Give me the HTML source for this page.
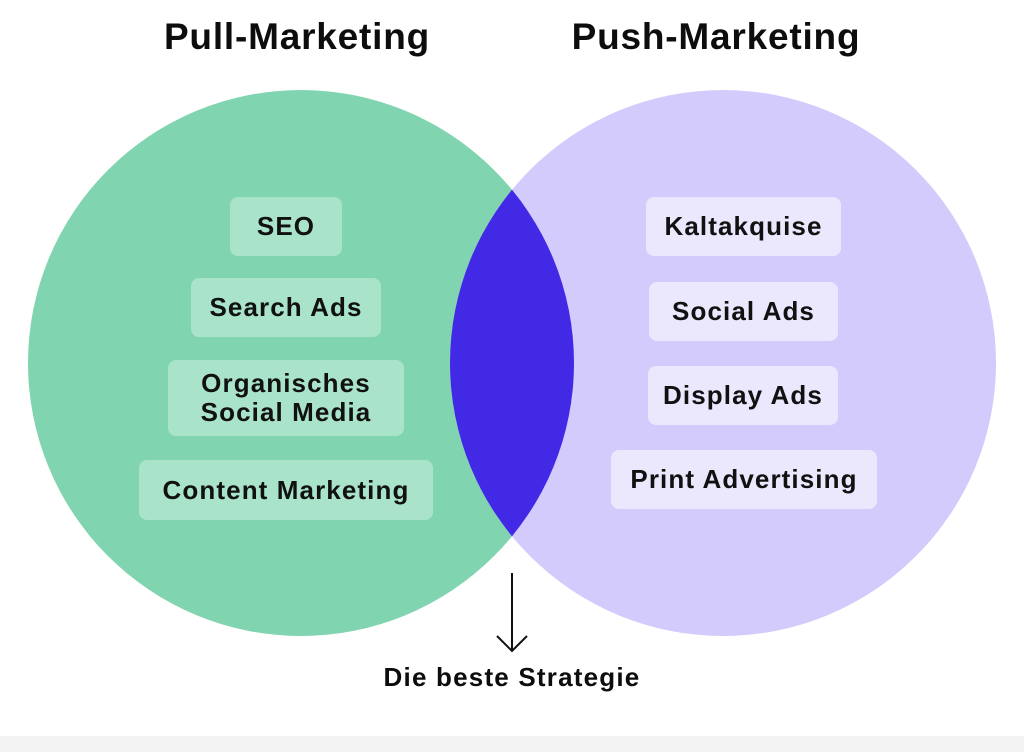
<!DOCTYPE html>
<html><head><meta charset="utf-8"><style>
body{margin:0;width:1024px;height:752px;background:#fff;overflow:hidden;position:relative;font-family:"Liberation Sans",sans-serif;}
.t{position:absolute;font-weight:bold;color:#0d0d0d;white-space:nowrap;transform:translateX(-50%);}
.b{position:absolute;border-radius:8px;display:flex;align-items:center;justify-content:center;text-align:center;font-weight:bold;font-size:26px;letter-spacing:1.1px;line-height:29px;color:#111;white-space:nowrap;}
.g{background:#a9e3ca}.p{background:#ebe7fc}
</style></head><body>
<svg width="1024" height="752" style="position:absolute;left:0;top:0">
<defs><clipPath id="c"><circle cx="301" cy="363" r="273"/></clipPath></defs>
<rect x="0" y="736" width="1024" height="16" fill="#f3f3f3"/>
<circle cx="301" cy="363" r="273" fill="#80d4b0"/>
<circle cx="723" cy="363" r="273" fill="#d3cbfc"/>
<circle cx="723" cy="363" r="273" fill="#4229e6" clip-path="url(#c)"/>
<line x1="512" y1="573" x2="512" y2="650" stroke="#111" stroke-width="2"/>
<polyline points="497,636 512,651 527,636" fill="none" stroke="#111" stroke-width="2"/>
</svg>
<div class="t" style="left:297px;top:16px;font-size:37px;letter-spacing:0.8px">Pull-Marketing</div>
<div class="t" style="left:716px;top:16px;font-size:37px;letter-spacing:0.8px">Push-Marketing</div>
<div class="t" style="left:512px;top:662px;font-size:26px;letter-spacing:1.2px">Die beste Strategie</div>
<div class="b g" style="left:230px;top:197px;width:112px;height:59px">SEO</div>
<div class="b g" style="left:191px;top:278px;width:190px;height:59px">Search Ads</div>
<div class="b g" style="left:168px;top:360px;width:236px;height:76px">Organisches<br>Social Media</div>
<div class="b g" style="left:139px;top:460px;width:294px;height:60px">Content Marketing</div>
<div class="b p" style="left:646px;top:197px;width:195px;height:59px">Kaltakquise</div>
<div class="b p" style="left:649px;top:282px;width:189px;height:59px">Social Ads</div>
<div class="b p" style="left:648px;top:366px;width:190px;height:59px">Display Ads</div>
<div class="b p" style="left:611px;top:450px;width:266px;height:59px">Print Advertising</div>
</body></html>
